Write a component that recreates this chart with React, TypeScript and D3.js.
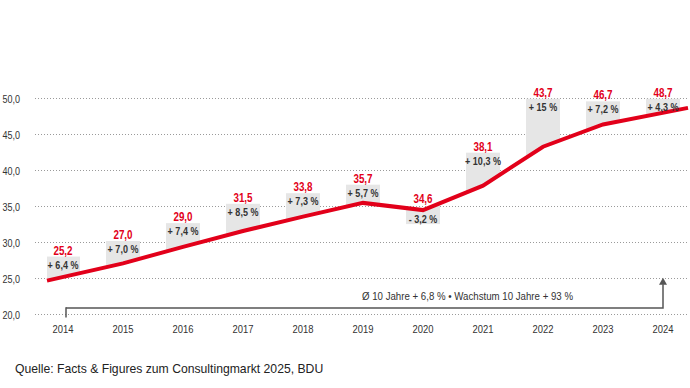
import React from 'react';
import * as d3 from 'd3';

const years = ['2014', '2015', '2016', '2017', '2018', '2019', '2020', '2021', '2022', '2023', '2024'];
const values = [25.2, 27.0, 29.0, 31.5, 33.8, 35.7, 34.6, 38.1, 43.7, 46.7, 48.7];
const lineValues = [24.7, 27.1, 29.4, 31.6, 33.6, 35.5, 34.5, 37.9, 43.3, 46.4, 48.7];
const growth = [6.4, 7.0, 7.4, 8.5, 7.3, 5.7, -3.2, 10.3, 15, 7.2, 4.3];
const growthLabels = ['+ 6,4 %', '+ 7,0 %', '+ 7,4 %', '+ 8,5 %', '+ 7,3 %', '+ 5,7 %', '- 3,2 %', '+ 10,3 %', '+ 15 %', '+ 7,2 %', '+ 4,3 %'];
const yTicks = [20, 25, 30, 35, 40, 45, 50];
const annotation = 'Ø 10 Jahre + 6,8 % • Wachstum 10 Jahre + 93 %';
const source = 'Quelle: Facts & Figures zum Consultingmarkt 2025, BDU';

const W = 690;
const H = 388;
const RED = '#e2001a';
const GREY_BOX = '#e6e6e6';
const TEXT = '#333333';
const FONT = "'Liberation Sans', Arial, sans-serif";
const NARROW_SCALE = 0.82;

const fmt = (v: number) => d3.format('.1f')(v).replace('.', ',');

type NTextProps = {
  x: number;
  y: number;
  size: number;
  anchor?: 'start' | 'middle' | 'end';
  weight?: string;
  fill?: string;
  children: React.ReactNode;
};

function NText({ x, y, size, anchor = 'middle', weight = 'normal', fill = TEXT, children }: NTextProps) {
  return (
    <text
      transform={`translate(${x},${y}) scale(${NARROW_SCALE},1)`}
      textAnchor={anchor}
      fontFamily={FONT}
      fontSize={size}
      fontWeight={weight}
      fill={fill}
    >
      {children}
    </text>
  );
}

export default function App() {
  const x = d3.scalePoint<string>().domain(years).range([63, 663]);
  const y = d3.scaleLinear().domain([20, 50]).range([314.5, 98.5]);
  const h = d3.scaleLinear().domain([0, 1]).range([0, 3.2]);
  const plotLeft = 47;
  const plotRight = 688;
  const n = years.length;
  const lineX = (i: number) => (i === 0 ? plotLeft : i === n - 1 ? plotRight : (x(years[i]) as number));

  const pts: [number, number][] = lineValues.map((v, i) => [lineX(i), y(v)]);
  const line = d3.line<[number, number]>().x((d) => d[0]).y((d) => d[1]);
  const areaAbove = d3.area<[number, number]>().x((d) => d[0]).y0(0).y1((d) => d[1]);
  const areaBelow = d3.area<[number, number]>().x((d) => d[0]).y0((d) => d[1]).y1(H);

  const lineYAt = (px: number) => {
    const xs = pts.map((p) => p[0]);
    const ys = pts.map((p) => p[1]);
    return d3.scaleLinear().domain(xs).range(ys).clamp(true)(px);
  };

  const boxW = 34;
  const x0 = x(years[0]) as number;
  const xN = x(years[n - 1]) as number;

  return (
    <svg width={W} height={H} style={{ position: 'absolute', left: 0, top: 0 }}>
      <rect width={W} height={H} fill="#fff" />
      <defs>
        <clipPath id="above">
          <path d={areaAbove(pts) || ''} />
        </clipPath>
        <clipPath id="below">
          <path d={areaBelow(pts) || ''} />
        </clipPath>
      </defs>

      {yTicks.map((t) => (
        <g key={t}>
          <line x1={35} x2={688} y1={y(t)} y2={y(t)} stroke="#9a9a9a" strokeWidth={1} strokeDasharray="1,2" />
          <NText x={20} y={y(t) + 4} size={11} anchor="end">
            {fmt(t)}
          </NText>
        </g>
      ))}

      {years.map((yr, i) => {
        const cx = x(yr) as number;
        const ly = lineYAt(cx);
        const hh = Math.max(h(Math.abs(growth[i])), 14);
        if (growth[i] >= 0) {
          const top = ly - hh;
          return (
            <rect key={yr} x={cx - boxW / 2} y={top} width={boxW} height={y(20) - top} fill={GREY_BOX} clipPath="url(#above)" />
          );
        }
        return (
          <rect key={yr} x={cx - boxW / 2} y={ly - 10} width={boxW} height={hh + 10} fill={GREY_BOX} clipPath="url(#below)" />
        );
      })}

      <path d={line(pts) || ''} fill="none" stroke={RED} strokeWidth={4} strokeLinejoin="miter" />

      {years.map((yr, i) => {
        const cx = x(yr) as number;
        const ly = lineYAt(cx);
        const hh = Math.max(h(Math.abs(growth[i])), 14);
        if (growth[i] >= 0) {
          const top = ly - hh;
          return (
            <g key={yr}>
              <NText x={cx} y={top - 2} size={12} weight="bold" fill={RED}>
                {fmt(values[i])}
              </NText>
              <NText x={cx} y={top + 12} size={11} weight="bold">
                {growthLabels[i]}
              </NText>
            </g>
          );
        }
        return (
          <g key={yr}>
            <NText x={cx} y={ly - 7} size={12} weight="bold" fill={RED}>
              {fmt(values[i])}
            </NText>
            <NText x={cx} y={ly + 13} size={11} weight="bold">
              {growthLabels[i]}
            </NText>
          </g>
        );
      })}

      {/* growth bracket */}
      <g stroke="#555" strokeWidth={1.5} fill="none">
        <line x1={x0 + 3} x2={x0 + 3} y1={y(21)} y2={y(19.6)} />
        <path d={`M${x0 + 3},${y(20.9)} H${xN} V${y(24.2)}`} />
      </g>
      <path d={`M${xN},${y(25.1)} l-4,7 h8 z`} fill="#555" />
      <NText x={xN - 90} y={y(22)} size={11.8} anchor="end">
        {annotation}
      </NText>

      {years.map((yr) => (
        <NText key={yr} x={x(yr) as number} y={333} size={11.5}>
          {yr}
        </NText>
      ))}

      <text x={15} y={373} fontFamily={FONT} fontSize={12.2} fill="#222">
        {source}
      </text>
    </svg>
  );
}
